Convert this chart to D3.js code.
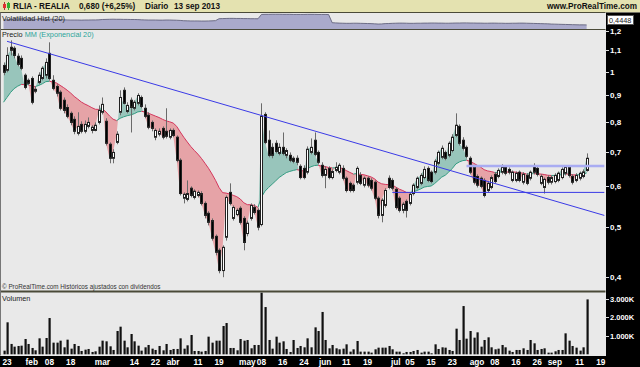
<!DOCTYPE html>
<html>
<head>
<meta charset="utf-8">
<script src="https://cdn.jsdelivr.net/npm/d3@7"></script>
<style>
  body { margin: 0; background: #fff; }
  svg { display: block; font-family: "Liberation Sans", Arial, sans-serif; }
</style>
</head>
<body>
<div id="chart"></div>
<script>
// trading calendar (Bolsa de Madrid)
const firstDay = "2013-01-22";
const lastAxisDay = "2013-09-20";
const holidays = ["2013-03-29", "2013-04-01", "2013-05-01"];

const open = [
  1.029, 1.007, 1.116, 1.111, 1.072, 1.062, 0.985, 0.963, 0.971, 0.917,
  0.954, 0.971, 0.985, 1.086, 0.963, 0.937, 0.913, 0.881, 0.853, 0.831,
  0.809, 0.760, 0.791, 0.767, 0.784, 0.770, 0.770, 0.798, 0.835, 0.802,
  0.724, 0.680, 0.730, 0.835, 0.921, 0.838, 0.881, 0.850, 0.869, 0.892,
  0.850, 0.824, 0.798, 0.747, 0.757, 0.777, 0.767, 0.747, 0.770, 0.747,
  0.674, 0.569, 0.566, 0.595, 0.571, 0.576, 0.581, 0.556, 0.532, 0.515,
  0.480, 0.451, 0.412, 0.478, 0.584, 0.520, 0.529, 0.544, 0.520, 0.486,
  0.520, 0.546, 0.539, 0.506, 0.827, 0.737, 0.714, 0.727, 0.695, 0.714,
  0.689, 0.689, 0.680, 0.680, 0.656, 0.650, 0.639, 0.698, 0.737, 0.698,
  0.659, 0.630, 0.650, 0.624, 0.644, 0.639, 0.650, 0.622, 0.608, 0.603,
  0.611, 0.630, 0.603, 0.622, 0.616, 0.611, 0.569, 0.527, 0.551, 0.622,
  0.616, 0.592, 0.569, 0.539, 0.561, 0.556, 0.581, 0.597, 0.608, 0.624,
  0.650, 0.639, 0.639, 0.665, 0.683, 0.698, 0.689, 0.704, 0.753, 0.784,
  0.737, 0.714, 0.680, 0.653, 0.627, 0.622, 0.616, 0.589, 0.597, 0.633,
  0.627, 0.639, 0.653, 0.647, 0.616, 0.616, 0.639, 0.611, 0.630, 0.622,
  0.656, 0.650, 0.608, 0.597, 0.624, 0.611, 0.613, 0.616, 0.624, 0.636,
  0.653, 0.627, 0.616, 0.622, 0.627, 0.644
];
const high = [
  1.043, 1.116, 1.151, 1.121, 1.086, 1.076, 0.993, 0.971, 0.980, 0.937,
  0.998, 1.025, 1.062, 1.141, 0.985, 0.946, 0.921, 0.892, 0.865, 0.838,
  0.820, 0.835, 0.802, 0.805, 0.816, 0.788, 0.798, 0.861, 0.892, 0.813,
  0.730, 0.708, 0.767, 0.921, 0.933, 0.873, 0.892, 0.881, 0.909, 0.900,
  0.865, 0.835, 0.805, 0.777, 0.777, 0.784, 0.850, 0.777, 0.777, 0.753,
  0.680, 0.584, 0.616, 0.600, 0.592, 0.589, 0.587, 0.561, 0.537, 0.520,
  0.484, 0.455, 0.461, 0.576, 0.608, 0.551, 0.544, 0.549, 0.525, 0.515,
  0.556, 0.554, 0.544, 0.869, 0.835, 0.770, 0.727, 0.737, 0.727, 0.763,
  0.711, 0.698, 0.686, 0.689, 0.662, 0.659, 0.717, 0.743, 0.763, 0.704,
  0.668, 0.656, 0.656, 0.647, 0.668, 0.665, 0.659, 0.627, 0.613, 0.608,
  0.656, 0.639, 0.627, 0.627, 0.622, 0.616, 0.574, 0.569, 0.595, 0.630,
  0.622, 0.597, 0.574, 0.559, 0.566, 0.584, 0.608, 0.627, 0.636, 0.656,
  0.656, 0.644, 0.677, 0.704, 0.720, 0.704, 0.733, 0.757, 0.831, 0.791,
  0.747, 0.720, 0.686, 0.659, 0.633, 0.627, 0.622, 0.613, 0.630, 0.639,
  0.650, 0.662, 0.659, 0.653, 0.644, 0.641, 0.644, 0.639, 0.636, 0.644,
  0.665, 0.656, 0.633, 0.624, 0.630, 0.630, 0.636, 0.641, 0.653, 0.659,
  0.659, 0.633, 0.636, 0.641, 0.647, 0.695
];
const low = [
  0.985, 0.998, 1.076, 1.062, 1.025, 1.007, 0.925, 0.942, 0.865, 0.909,
  0.946, 0.963, 0.971, 0.963, 0.921, 0.896, 0.842, 0.831, 0.813, 0.788,
  0.757, 0.753, 0.760, 0.760, 0.777, 0.760, 0.767, 0.791, 0.827, 0.720,
  0.665, 0.665, 0.724, 0.824, 0.865, 0.831, 0.763, 0.842, 0.861, 0.850,
  0.813, 0.774, 0.767, 0.737, 0.750, 0.740, 0.743, 0.740, 0.747, 0.668,
  0.576, 0.556, 0.561, 0.571, 0.566, 0.571, 0.551, 0.520, 0.504, 0.471,
  0.441, 0.407, 0.400, 0.471, 0.551, 0.515, 0.525, 0.506, 0.451, 0.480,
  0.515, 0.529, 0.493, 0.502, 0.724, 0.683, 0.680, 0.695, 0.689, 0.689,
  0.680, 0.668, 0.665, 0.659, 0.619, 0.619, 0.633, 0.692, 0.686, 0.662,
  0.624, 0.595, 0.619, 0.619, 0.639, 0.633, 0.616, 0.584, 0.584, 0.584,
  0.605, 0.603, 0.597, 0.597, 0.589, 0.564, 0.520, 0.511, 0.546, 0.592,
  0.589, 0.541, 0.534, 0.532, 0.522, 0.551, 0.576, 0.592, 0.603, 0.619,
  0.611, 0.608, 0.633, 0.659, 0.677, 0.674, 0.683, 0.698, 0.747, 0.720,
  0.704, 0.680, 0.633, 0.605, 0.597, 0.595, 0.571, 0.584, 0.592, 0.608,
  0.622, 0.633, 0.630, 0.633, 0.611, 0.611, 0.611, 0.605, 0.603, 0.616,
  0.633, 0.627, 0.603, 0.581, 0.605, 0.605, 0.608, 0.611, 0.619, 0.630,
  0.624, 0.605, 0.611, 0.616, 0.622, 0.641
];
const close = [
  0.998, 1.076, 1.101, 1.076, 1.034, 1.016, 0.933, 0.950, 0.873, 0.925,
  0.985, 1.016, 1.043, 0.971, 0.929, 0.909, 0.850, 0.842, 0.820, 0.798,
  0.767, 0.784, 0.767, 0.791, 0.798, 0.781, 0.788, 0.842, 0.865, 0.727,
  0.680, 0.698, 0.757, 0.892, 0.869, 0.861, 0.853, 0.873, 0.900, 0.857,
  0.820, 0.781, 0.777, 0.770, 0.767, 0.747, 0.750, 0.770, 0.753, 0.674,
  0.581, 0.579, 0.581, 0.576, 0.587, 0.584, 0.556, 0.527, 0.511, 0.476,
  0.447, 0.412, 0.457, 0.571, 0.556, 0.546, 0.539, 0.511, 0.467, 0.509,
  0.551, 0.534, 0.500, 0.820, 0.730, 0.689, 0.689, 0.701, 0.714, 0.695,
  0.704, 0.674, 0.671, 0.668, 0.624, 0.624, 0.708, 0.714, 0.692, 0.668,
  0.630, 0.647, 0.624, 0.641, 0.653, 0.659, 0.622, 0.589, 0.589, 0.589,
  0.650, 0.608, 0.622, 0.603, 0.595, 0.569, 0.527, 0.564, 0.589, 0.597,
  0.595, 0.546, 0.539, 0.554, 0.539, 0.579, 0.603, 0.622, 0.630, 0.647,
  0.616, 0.613, 0.671, 0.698, 0.711, 0.680, 0.727, 0.747, 0.788, 0.727,
  0.711, 0.686, 0.639, 0.611, 0.603, 0.600, 0.576, 0.608, 0.624, 0.613,
  0.644, 0.653, 0.636, 0.639, 0.639, 0.636, 0.616, 0.633, 0.608, 0.639,
  0.639, 0.633, 0.627, 0.619, 0.611, 0.624, 0.630, 0.636, 0.647, 0.653,
  0.630, 0.611, 0.630, 0.636, 0.640, 0.680
];
// volume in thousands of shares
const volume = [
  198, 1730, 560, 414, 450, 468, 828, 558, 342, 216,
  864, 414, 882, 1962, 630, 630, 738, 378, 792, 306,
  558, 450, 180, 252, 288, 126, 162, 414, 738, 702,
  432, 234, 1260, 1494, 738, 378, 1098, 702, 468, 198,
  378, 504, 306, 234, 450, 216, 558, 234, 288, 288,
  864, 306, 486, 1044, 180, 180, 144, 180, 954, 630,
  738, 738, 1530, 1692, 342, 342, 216, 828, 738, 774,
  324, 504, 504, 3330, 2556, 774, 306, 954, 630, 702,
  288, 126, 774, 342, 450, 378, 864, 378, 1458, 1260,
  2290, 774, 324, 504, 324, 270, 306, 540, 144, 270,
  720, 144, 144, 144, 90, 270, 360, 360, 360, 450,
  270, 144, 144, 54, 126, 126, 180, 234, 90, 144,
  144, 54, 540, 288, 378, 360, 234, 180, 1386, 774,
  2610, 846, 1260, 900, 1188, 414, 774, 918, 378, 270,
  306, 504, 378, 198, 126, 234, 234, 324, 234, 774,
  594, 234, 288, 324, 90, 90, 162, 234, 234, 1134,
  738, 450, 360, 198, 378, 2970
];
// historical volatility (20)
const histVol = [
  0.92, 0.93, 1.00, 1.02, 1.02, 1.03, 1.02, 1.01, 1.01,
  0.99, 0.99, 0.98, 0.99, 1.00, 0.99, 0.98, 0.97,
  0.94, 0.93, 0.92, 0.92, 0.92, 0.91, 0.92, 0.92, 0.93, 0.93, 0.94,
  0.97, 0.98, 0.99, 1.00, 0.99, 0.99, 0.98, 0.98, 0.97, 0.97, 0.96,
  0.94, 0.93, 0.92, 0.92, 0.92, 0.91, 0.91, 0.92, 0.92, 0.91, 0.90, 0.88,
  0.85, 0.84, 0.83, 0.83, 0.83, 0.82, 0.82, 0.83, 0.84, 0.86,
  1.05, 1.06, 1.07, 1.08, 1.08, 1.07, 1.07, 1.06, 1.06, 1.05, 1.05, 1.04,
  1.46, 1.47, 1.47, 1.48, 1.48, 1.48, 1.47, 1.47, 1.47, 1.46,
  1.46, 1.46, 1.46, 1.47, 1.47, 1.47, 1.46, 1.46, 1.46, 1.45,
  0.66, 0.64, 0.62, 0.61, 0.60, 0.60, 0.61, 0.61, 0.60, 0.59, 0.58, 0.57,
  0.55, 0.53, 0.54,
  0.57, 0.58, 0.60, 0.61, 0.62, 0.62, 0.61, 0.60, 0.60, 0.61, 0.61, 0.62,
  0.62, 0.63, 0.63, 0.62, 0.62, 0.61, 0.61, 0.62, 0.63, 0.63, 0.64,
  0.64, 0.63, 0.63, 0.62, 0.62, 0.61, 0.61, 0.62, 0.62, 0.61, 0.61, 0.60,
  0.60, 0.61, 0.61, 0.62, 0.62, 0.61, 0.60, 0.59, 0.58, 0.57, 0.56, 0.55,
  0.53, 0.52, 0.51, 0.50, 0.49, 0.48, 0.47, 0.46, 0.45, 0.45, 0.4448
];

const dateTicks = [
  ["2013-01-23", "23"], ["2013-02-01", "feb"], ["2013-02-08", "08"], ["2013-02-18", "18"],
  ["2013-03-01", "mar"], ["2013-03-14", "14"], ["2013-03-22", "22"], ["2013-04-02", "abr"],
  ["2013-04-11", "11"], ["2013-04-19", "19"], ["2013-05-02", "may"], ["2013-05-08", "08"],
  ["2013-05-16", "16"], ["2013-05-24", "24"], ["2013-06-03", "jun"], ["2013-06-11", "11"],
  ["2013-06-19", "19"], ["2013-07-01", "jul"], ["2013-07-05", "05"], ["2013-07-15", "15"],
  ["2013-07-23", "23"], ["2013-08-01", "ago"], ["2013-08-08", "08"], ["2013-08-16", "16"],
  ["2013-08-26", "26"], ["2013-09-02", "sep"], ["2013-09-11", "11"], ["2013-09-19", "19"]
];
const priceTicks = [1.2, 1.1, 1, 0.9, 0.8, 0.7, 0.6, 0.5, 0.4];
const volumeTicks = [1000, 2000, 3000];

// drawn objects on the price panel: [date, price]
const trendLine = [["2013-01-23", 1.146], ["2013-09-20", 0.527]];
const supportLine = [["2013-06-28", 0.584], ["2013-09-20", 0.584]];
const resistLine = [["2013-07-29", 0.657], ["2013-09-20", 0.657]];

const emaPeriod = 20;
const emaSeed = 0.86;

function drawChart() {
  const width = 640;
  const height = 367;
  const plotRight = 605.5;
  const volTop = 13, volBottom = 29.5;
  const priceTop = 30, priceBottom = 291;
  const vPanelBottom = 355.5;

  // trading days
  const fmt = d3.timeFormat("%Y-%m-%d");
  const parse = d3.timeParse("%Y-%m-%d");
  const days = d3.timeDay.range(parse(firstDay), d3.timeDay.offset(parse(lastAxisDay), 1))
    .filter(d => d.getDay() !== 0 && d.getDay() !== 6 && !holidays.includes(fmt(d)))
    .map(fmt);
  const dayIndex = new Map(days.map((d, i) => [d, i]));
  const n = close.length;
  const idx = d3.range(n);

  const x = d3.scaleLinear()
    .domain([0, days.length - 1])
    .range([3.5, 604.3]);

  const y = d3.scaleLog()
    .domain([0.4, 1.2])
    .range([277.2, 31.0]);

  const yVol = d3.scaleLinear()
    .domain([0, 1.6])
    .range([volBottom, volTop]);

  const yV = d3.scaleLinear()
    .domain([0, 3370])
    .range([354.3, 292]);

  // EMA 20 of the close
  const k = 2 / (emaPeriod + 1);
  let prev = emaSeed;
  const ema = close.map(c => (prev = prev + k * (c - prev)));

  const svg = d3.create("svg")
    .attr("width", width)
    .attr("height", height);

  const defs = svg.append("defs");

  // backgrounds
  svg.append("rect").attr("width", width).attr("height", height).attr("fill", "#e9e9e9");
  svg.append("rect").attr("width", width).attr("height", 12.5).attr("fill", "#e4e2b0");
  svg.append("rect").attr("x", plotRight + 0.5).attr("y", 12.5)
    .attr("width", width - plotRight).attr("height", height - 12.5).attr("fill", "#000");
  svg.append("rect").attr("x", 0).attr("y", vPanelBottom + 0.5)
    .attr("width", width).attr("height", height - vPanelBottom).attr("fill", "#000");

  // header
  const head = svg.append("g");
  head.append("line").attr("x1", 4.5).attr("x2", 4.5).attr("y1", 2).attr("y2", 10).attr("stroke", "#a33");
  head.append("rect").attr("x", 3).attr("y", 4).attr("width", 3).attr("height", 4).attr("fill", "#e03030");
  head.append("line").attr("x1", 8.5).attr("x2", 8.5).attr("y1", 2).attr("y2", 10).attr("stroke", "#3a3");
  head.append("rect").attr("x", 7).attr("y", 3).attr("width", 3).attr("height", 5).attr("fill", "#30b030");
  const headText = (tx, str, anchor) => head.append("text")
    .attr("x", tx).attr("y", 9.3)
    .attr("font-size", 8.2).attr("font-weight", "bold")
    .attr("fill", "#111").attr("text-anchor", anchor || "start")
    .text(str);
  headText(13, "RLIA - REALIA");
  headText(79, "0,680 (+6,25%)");
  headText(145, "Diario");
  headText(174, "13 sep 2013");
  headText(637, "www.ProRealTime.com", "end");

  // volatility panel
  const volG = svg.append("g");
  volG.append("path")
    .attr("d", d3.area().x(i => x(i)).y0(volBottom).y1(i => yVol(histVol[i]))(idx))
    .attr("fill", "#aaaacb");
  volG.append("path")
    .attr("d", d3.line().x(i => x(i)).y(i => yVol(histVol[i]))(idx))
    .attr("fill", "none").attr("stroke", "#555570").attr("stroke-width", 0.8);
  volG.append("text").attr("x", 2).attr("y", 20.5)
    .attr("font-size", 7.3).attr("fill", "#222")
    .text("Volatilidad Hist (20)");
  volG.append("rect").attr("x", 607.5).attr("y", 15.5).attr("width", 26).attr("height", 9)
    .attr("fill", "#fff").attr("stroke", "#555");
  volG.append("text").attr("x", 609).attr("y", 23)
    .attr("font-size", 7.3).attr("fill", "#222")
    .text(d3.format(".4f")(histVol[n - 1]).replace(".", ","));

  // panel separators
  [12.5, 29.5].forEach(sy => svg.append("line")
    .attr("x1", 0).attr("x2", plotRight).attr("y1", sy).attr("y2", sy)
    .attr("stroke", "#4a4a38"));
  svg.append("line").attr("x1", 0).attr("x2", plotRight).attr("y1", 291.5).attr("y2", 291.5)
    .attr("stroke", "#4a4a38").attr("stroke-width", 2);
  svg.append("line").attr("x1", 0.5).attr("x2", 0.5).attr("y1", 12.5).attr("y2", vPanelBottom)
    .attr("stroke", "#777");

  // price panel
  defs.append("clipPath").attr("id", "priceClip")
    .append("rect").attr("x", 1).attr("y", priceTop).attr("width", plotRight - 1).attr("height", priceBottom - priceTop);
  const pg = svg.append("g").attr("clip-path", "url(#priceClip)");

  defs.append("clipPath").attr("id", "aboveEma")
    .append("path").attr("d", d3.area().x(i => x(i)).y0(priceTop).y1(i => y(ema[i]))(idx));
  defs.append("clipPath").attr("id", "belowEma")
    .append("path").attr("d", d3.area().x(i => x(i)).y0(i => y(ema[i])).y1(priceBottom)(idx));

  const band = d3.area().x(i => x(i)).y0(i => y(close[i])).y1(i => y(ema[i]));
  pg.append("path").attr("d", band(idx)).attr("fill", "#98c5bb").attr("clip-path", "url(#aboveEma)");
  pg.append("path").attr("d", band(idx)).attr("fill", "#e6a3a7").attr("clip-path", "url(#belowEma)");

  // EMA line, coloured by side
  const runs = [];
  idx.forEach(i => {
    const up = close[i] >= ema[i];
    const last = runs[runs.length - 1];
    if (!last || last.up !== up) runs.push({ up, pts: i > 0 ? [i - 1, i] : [i] });
    else last.pts.push(i);
  });
  const emaLine = d3.line().x(i => x(i)).y(i => y(ema[i]));
  pg.append("g").selectAll("path")
    .data(runs)
    .join("path")
    .attr("d", r => emaLine(r.pts))
    .attr("fill", "none")
    .attr("stroke", r => r.up ? "#2e9d82" : "#d6345a")
    .attr("stroke-width", 1);

  // candles
  const candles = pg.append("g").selectAll("g")
    .data(idx)
    .join("g");
  candles.append("line")
    .attr("x1", i => Math.round(x(i)) + 0.5)
    .attr("x2", i => Math.round(x(i)) + 0.5)
    .attr("y1", i => y(high[i]))
    .attr("y2", i => y(low[i]))
    .attr("stroke", "#6a6a6a");
  candles.append("rect")
    .attr("x", i => Math.round(x(i)) - 0.5)
    .attr("y", i => y(Math.max(open[i], close[i])))
    .attr("width", 2)
    .attr("height", i => Math.max(1, Math.abs(y(open[i]) - y(close[i]))))
    .attr("fill", i => close[i] >= open[i] ? "#fff" : "#000")
    .attr("stroke", "#222")
    .attr("stroke-width", 1);

  // drawn lines
  const objLine = d3.line().x(d => x(dayIndex.get(d[0]))).y(d => y(d[1]));
  pg.append("path").attr("d", objLine(resistLine)).attr("fill", "none")
    .attr("stroke", "#a9acf2").attr("stroke-width", 2.5);
  pg.append("path").attr("d", objLine(supportLine)).attr("fill", "none")
    .attr("stroke", "#3a3ae6").attr("stroke-width", 1);
  pg.append("path").attr("d", objLine(trendLine)).attr("fill", "none")
    .attr("stroke", "#3a3ae6").attr("stroke-width", 1);

  pg.append("text").attr("x", 2).attr("y", 36.5).attr("font-size", 7.3)
    .call(t => t.append("tspan").attr("fill", "#222").text("Precio "))
    .call(t => t.append("tspan").attr("fill", "#2aa59a").text("MM (Exponencial 20)"));
  pg.append("text").attr("x", 2).attr("y", 288.5).attr("font-size", 6.3).attr("fill", "#333")
    .text("© ProRealTime.com Históricos ajustados con dividendos");

  // price axis
  const pAxis = svg.append("g");
  pAxis.selectAll("line")
    .data(priceTicks)
    .join("line")
    .attr("x1", plotRight).attr("x2", plotRight + 3.5)
    .attr("y1", d => Math.round(y(d)) + 0.5).attr("y2", d => Math.round(y(d)) + 0.5)
    .attr("stroke", "#ddd");
  pAxis.selectAll("text")
    .data(priceTicks)
    .join("text")
    .attr("x", 610).attr("y", d => y(d) + 3)
    .attr("font-size", 8).attr("font-weight", "bold").attr("fill", "#fff")
    .text(d => String(d).replace(".", ","));

  // volume panel
  const vg = svg.append("g");
  vg.append("text").attr("x", 2).attr("y", 300.5).attr("font-size", 7.3).attr("fill", "#222").text("Volumen");
  vg.selectAll("rect")
    .data(idx)
    .join("rect")
    .attr("x", i => Math.round(x(i)) - 0.5)
    .attr("y", i => yV(volume[i]))
    .attr("width", 2.2)
    .attr("height", i => yV(0) - yV(volume[i]))
    .attr("fill", "#111");
  vg.selectAll("line")
    .data(volumeTicks)
    .join("line")
    .attr("x1", plotRight).attr("x2", plotRight + 3.5)
    .attr("y1", d => Math.round(yV(d)) + 0.5).attr("y2", d => Math.round(yV(d)) + 0.5)
    .attr("stroke", "#ddd");
  vg.selectAll("text.vt")
    .data(volumeTicks)
    .join("text")
    .attr("class", "vt")
    .attr("x", 610).attr("y", d => yV(d) + 3)
    .attr("font-size", 7.5).attr("font-weight", "bold").attr("fill", "#fff")
    .text(d => d3.format(",")(d).replace(",", ".") + "K");

  // date axis
  svg.append("g").selectAll("text")
    .data(dateTicks)
    .join("text")
    .attr("x", d => x(dayIndex.get(d[0])))
    .attr("y", 365)
    .attr("text-anchor", "middle")
    .attr("font-size", 8.3)
    .attr("font-weight", "bold")
    .attr("fill", "#fff")
    .text(d => d[1]);

  return svg.node();
}

document.getElementById("chart").appendChild(drawChart());
</script>
</body>
</html>
